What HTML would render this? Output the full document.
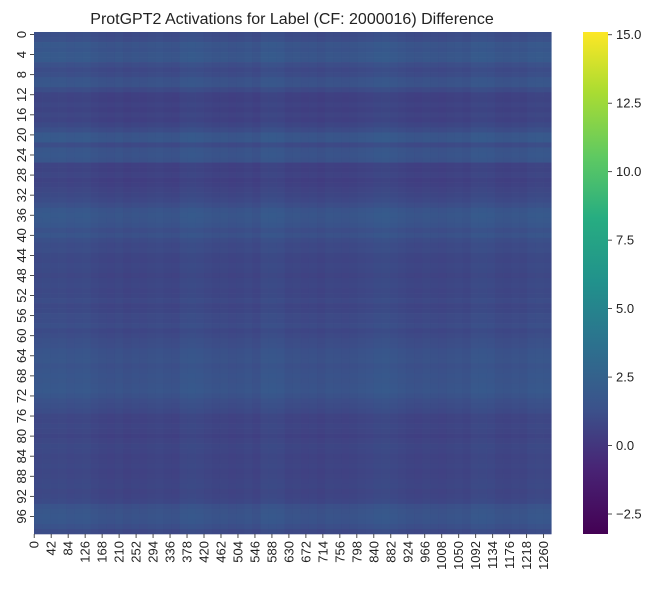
<!DOCTYPE html>
<html><head><meta charset="utf-8">
<style>
body{margin:0;background:#fff;font-family:"Liberation Sans",sans-serif;}
svg text{font-family:"Liberation Sans",sans-serif;fill:#222;}
</style></head>
<body>
<svg id="chart" width="661" height="590" xmlns="http://www.w3.org/2000/svg">
<text x="292" y="24" font-size="16" text-anchor="middle">ProtGPT2 Activations for Label (CF: 2000016) Difference</text>
<g id="cells"></g>
<g id="overlay"></g>
<g id="yaxis"></g>
<g id="xaxis"></g>
<defs><linearGradient id="vir" x1="0" y1="1" x2="0" y2="0"></linearGradient></defs>
<rect x="583" y="32" width="25" height="502" fill="url(#vir)"/>
<g id="cbar"></g>
</svg>
<script>
const nRows = 100;
const nCols = 1280;
const rowMeans = [1.0,1.2,2.0,1.8,2.2,2.1,1.2,0.8,1.0,1.6,1.7,0.9,0.2,0.1,0.3,0.1,0.4,0.2,0.6,1.0,2.0,2.1,0.9,1.7,1.9,1.6,0.2,0.1,0.3,0.0,0.2,0.4,0.6,0.8,1.2,1.9,2.2,2.0,1.8,1.2,1.6,1.0,0.8,0.9,0.6,0.5,0.7,0.6,0.4,0.6,0.7,0.5,0.6,0.8,0.5,0.6,0.9,0.8,1.0,0.7,0.9,1.1,1.2,1.5,1.6,1.7,1.4,1.6,1.8,1.7,1.9,2.0,1.6,1.2,1.0,0.8,0.4,0.3,0.5,0.4,0.2,0.4,0.6,0.5,0.3,0.4,0.5,0.3,0.4,0.5,0.6,0.4,0.5,0.7,1.4,1.7,1.9,1.8,1.3,0.8];
const colBlockMeans = [1.6,1.8,1.5,1.7,1.4,1.6,1.7,1.2,1.0,0.9,1.1,0.8,1.0,0.9,1.1,1.2,1.0,0.9,1.6,1.8,1.6,1.2,1.0,1.1,0.9,1.0,1.2,0.9,1.7,1.8,1.5,1.0,1.1,0.9,1.0,0.8,1.1,1.0,0.9,1.0,1.2,1.4,1.8,1.9,1.6,1.2,1.0,0.9,1.1,1.0,0.9,1.1,1.2,1.0,1.7,1.8,1.5,1.1,1.0,1.2,1.1,1.5,1.7,1.6];
const xTicks = [0,42,84,126,168,210,252,294,336,378,420,462,504,546,588,630,672,714,756,798,840,882,924,966,1008,1050,1092,1134,1176,1218,1260];
const yTicks = [0,4,8,12,16,20,24,28,32,36,40,44,48,52,56,60,64,68,72,76,80,84,88,92,96];
const cbTicks = [-2.5,0.0,2.5,5.0,7.5,10.0,12.5,15.0];
const vmin = -3.23, vmax = 15.1;

const L=34,T=32,W=517.5,H=502;
const xs = c => L + c*W/nCols;
const ys = r => T + r*H/nRows;
const cy = v => T + H - (v-vmin)/(vmax-vmin)*H;
const stops=[[0,[68,1,84]],[0.13,[72,36,117]],[0.25,[59,82,139]],[0.38,[44,114,142]],[0.5,[33,145,140]],[0.63,[39,173,129]],[0.75,[94,201,98]],[0.88,[170,220,50]],[1,[253,231,37]]];
function vir(t){t=Math.max(0,Math.min(1,t));for(let i=1;i<stops.length;i++){if(t<=stops[i][0]){const a=stops[i-1],b=stops[i];const f=(t-a[0])/(b[0]-a[0]);return 'rgb('+a[1].map((x,k)=>Math.round(x+(b[1][k]-x)*f)).join(',')+')';}}}
const col = v => vir((v-vmin)/(vmax-vmin));
const NS='http://www.w3.org/2000/svg';
function mk(tag,attrs,parent){const e=document.createElementNS(NS,tag);for(const k in attrs)e.setAttribute(k,attrs[k]);parent.appendChild(e);return e;}

const cells=document.getElementById('cells');
rowMeans.forEach((v,r)=>{
  const e=mk('rect',{x:xs(0),y:ys(r),width:W,height:ys(r+1)-ys(r)+0.3,fill:col(v)},cells);
  
  
});
const ov=document.getElementById('overlay');
const bw=nCols/colBlockMeans.length;
colBlockMeans.forEach((v,i)=>{
  const e=mk('rect',{x:xs(i*bw),y:T,width:xs((i+1)*bw)-xs(i*bw)+0.2,height:H,fill:col(v),opacity:0.4},ov);
  
  
});

const ya=document.getElementById('yaxis');
yTicks.forEach(t=>{
  const y=ys(t+0.5);
  mk('line',{x1:L-4,x2:L,y1:y,y2:y,stroke:'#222','stroke-width':0.8},ya);
  const tx=mk('text',{x:0,y:0,'font-size':13,'text-anchor':'middle',transform:`translate(${L-8},${y}) rotate(-90)`},ya);
  tx.textContent=t;
  
  
});
const xa=document.getElementById('xaxis');
xTicks.forEach(t=>{
  const x=xs(t+0.5);
  mk('line',{x1:x,x2:x,y1:T+H,y2:T+H+4,stroke:'#222','stroke-width':0.8},xa);
  const tx=mk('text',{x:0,y:0,'font-size':13,'text-anchor':'end',transform:`translate(${x+4.5},${T+H+7}) rotate(-90)`},xa);
  tx.textContent=t;
  
  
});
const g=document.getElementById('vir');
stops.forEach(s=>mk('stop',{offset:s[0],'stop-color':'rgb('+s[1].join(',')+')'},g));
const cb=document.getElementById('cbar');
cbTicks.forEach(v=>{
  const y=cy(v);
  mk('line',{x1:608,x2:612,y1:y,y2:y,stroke:'#222','stroke-width':0.8},cb);
  const tx=mk('text',{x:616,y:y+4.5,'font-size':13},cb);
  tx.textContent=(v<0?'\u2212'+(-v).toFixed(1):v.toFixed(1));
  
  
});
</script>
</body></html>
